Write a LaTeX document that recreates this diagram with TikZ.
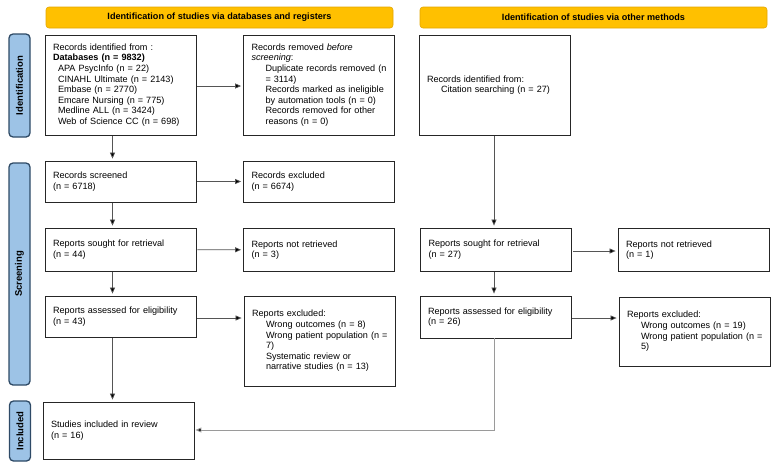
\documentclass[tikz,border=0pt]{standalone}
\usepackage{fontspec}
\setmainfont{Liberation Sans}
\usetikzlibrary{arrows.meta,calc}
\definecolor{banfill}{HTML}{FFC000}
\definecolor{bandraw}{HTML}{E3A600}
\definecolor{sidefill}{HTML}{9DC3E6}
\definecolor{sidedraw}{HTML}{2E4A66}
\definecolor{lngray}{HTML}{555555}
\definecolor{lgray}{HTML}{9A9A9A}
\newcommand\ia[1]{\hspace*{14pt}\mbox{#1}}
\newcommand\ib[1]{\hspace*{5pt}\mbox{#1}}
\begin{document}
\begin{tikzpicture}[x=1pt,y=-1pt,
  every node/.style={font=\fontsize{9.1}{10.6}\selectfont},
  box/.style={draw=black!85,line width=0.8pt,rectangle,inner xsep=8pt,inner ysep=2pt,
    minimum width=151pt,text width=135pt,align=left,anchor=center},
  banner/.style={draw=bandraw,line width=0.6pt,fill=banfill,rounded corners=3pt,
    minimum width=347pt,minimum height=21pt,font=\fontsize{9.1}{10}\selectfont\bfseries,anchor=center},
  side/.style={draw=sidedraw,line width=1.3pt,fill=sidefill,rounded corners=4pt,
    minimum width=21pt,anchor=center},
  sidetext/.style={rotate=90,font=\fontsize{9.5}{10}\selectfont\bfseries},
  arr/.style={draw=lngray,line width=0.7pt,-{Triangle[length=6pt,width=5pt,fill=black]},
    shorten >=2pt,shorten <=1pt},
  garr/.style={draw=lgray,line width=0.9pt,-{Triangle[length=6pt,width=5pt,fill=black]},
    shorten >=1pt}]
\useasboundingbox (0,0) rectangle (775,466);

% banners
\node[banner] (ban1) at (219.5,17.5) {Identification of studies via databases and registers};
\node[banner] (ban2) at (593.5,17.5) {Identification of studies via other methods};

% side labels
\node[side,minimum height=103pt] (sid) at (19.5,85.5) {};
\node[sidetext] (sidt) at (sid.center) {Identification};
\node[side,minimum height=222pt] (sscr) at (19.5,274) {};
\node[sidetext] (sscrt) at (sscr.center) {Screening};
\node[side,minimum height=60pt] (sinc) at (20,431) {};
\node[sidetext] (sinct) at (sinc.center) {Included};

% left column
\node[box,minimum height=100pt] (id1) at (120.5,85) {Records identified from :\\
\textbf{Databases (n = 9832)}\\
\ib{APA PsycInfo (n = 22)}\\
\ib{CINAHL Ultimate (n = 2143)}\\
\ib{Embase (n = 2770)}\\
\ib{Emcare Nursing (n = 775)}\\
\ib{Medline ALL (n = 3424)}\\
\ib{Web of Science CC (n = 698)}};

\node[box,minimum height=100pt] (rem) at (319,85) {Records removed \textit{before}\\
\textit{screening}:\\
\ia{Duplicate records removed (n}\\
\ia{= 3114)}\\
\ia{Records marked as ineligible}\\
\ia{by automation tools (n = 0)}\\
\ia{Records removed for other}\\
\ia{reasons (n = 0)}};

\node[box,minimum height=41pt] (scr) at (120.5,181.5) {Records screened\\(n = 6718)};
\node[box,minimum height=41pt] (exc) at (319,181.5) {Records excluded\\(n = 6674)};

\node[box,minimum height=43pt] (sou1) at (120.5,249.5) {Reports sought for retrieval\\(n = 44)};
\node[box,minimum height=43pt] (nr1) at (319,250) {Reports not retrieved\\(n = 3)};

\node[box,minimum height=41pt] (as1) at (120.5,316.5) {Reports assessed for eligibility\\(n = 43)};
\node[box,minimum height=90pt] (ex1) at (319.5,341) {Reports excluded:\\
\ia{Wrong outcomes (n = 8)}\\
\ia{Wrong patient population (n =}\\
\ia{7)}\\
\ia{Systematic review or}\\
\ia{narrative studies (n = 13)}};

\node[box,minimum height=57pt] (inc) at (118.5,430.5) {Studies included in review\\(n = 16)};

% right columns
\node[box,minimum height=100pt] (cit) at (494.5,85) {Records identified from:\\
\ia{Citation searching (n = 27)}};
\node[box,minimum height=43pt] (sou2) at (496,249.5) {Reports sought for retrieval\\(n = 27)};
\node[box,minimum height=43pt] (nr2) at (693.5,250) {Reports not retrieved\\(n = 1)};
\node[box,minimum height=42pt] (as2) at (495.5,317) {Reports assessed for eligibility\\(n = 26)};
\node[box,minimum height=69pt] (ex2) at (694.5,331.5) {Reports excluded:\\
\ia{Wrong outcomes (n = 19)}\\
\ia{Wrong patient population (n =}\\
\ia{5)}};

% connectors
\draw[arr] (id1.east |- 0,86) -- (rem.west |- 0,86);
\draw[arr] (scr) -- (exc);
\draw[arr] (sou1) -- (nr1);
\draw[arr] (as1.east |- 0,318) -- (ex1.west |- 0,318);
\draw[arr] ([xshift=-8pt]id1.south) -- ([xshift=-8pt]id1.south |- scr.north);
\draw[arr] ([xshift=-8pt]scr.south) -- ([xshift=-8pt]scr.south |- sou1.north);
\draw[arr] ([xshift=-8pt]sou1.south) -- ([xshift=-8pt]sou1.south |- as1.north);
\draw[arr] ([xshift=-8pt]as1.south) -- ([xshift=-8pt]as1.south |- inc.north);

\draw[arr] (cit.south -| 494,0) -- (sou2.north -| 494,0);
\draw[arr] (sou2.south -| 494,0) -- (as2.north -| 494,0);
\draw[arr] (sou2.east |- 0,251) -- (nr2.west |- 0,251);
\draw[arr] (as2.east |- 0,318) -- (ex2.west |- 0,318);
\draw[garr] (as2.south -| 494,0) -- (494,430) -- (inc.east |- 0,430);
\end{tikzpicture}
\end{document}
